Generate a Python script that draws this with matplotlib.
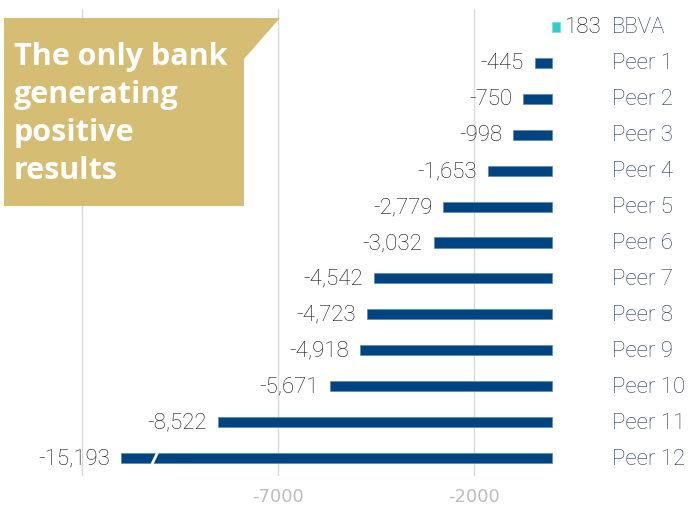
import matplotlib
matplotlib.use("Agg")
import matplotlib.pyplot as plt
from matplotlib.patches import Polygon

# ---------------- data ----------------
banks = ["BBVA", "Peer 1", "Peer 2", "Peer 3", "Peer 4", "Peer 5", "Peer 6",
         "Peer 7", "Peer 8", "Peer 9", "Peer 10", "Peer 11", "Peer 12"]
values = [183, -445, -750, -998, -1653, -2779, -3032,
          -4542, -4723, -4918, -5671, -8522, -15193]
value_labels = ["183", "-445", "-750", "-998", "-1,653", "-2,779", "-3,032",
                "-4,542", "-4,723", "-4,918", "-5,671", "-8,522", "-15,193"]
tick_values = [-12000, -7000, -2000]
tick_labels = ["", "-7000", "-2000"]
axis_cap = -11000          # bars beyond this are drawn broken
break_at = -10140
callout_lines = ["The only bank", "generating", "positive", "results"]

# ---------------- layout / style ----------------
W, H, DPI = 688, 510, 100
NAVY = "#004481"
CYAN = "#2dcccd"
GOLD = "#d6bd74"
NAME_COLOR = "#23355a"
VAL_COLOR = "#111111"
GRID = "#d9d9d9"

label_family = ["Roboto", "DejaVu Sans"]
label_size = 16

fig = plt.figure(figsize=(W / DPI, H / DPI), dpi=DPI)
ax = fig.add_axes([0, 33 / H, 1, (500 - 33) / H])

px_per_unit = 196 / 5000.0
zero_px = 552.4
ax.set_xlim((0 - zero_px) / px_per_unit, (W - zero_px) / px_per_unit)
ax.set_ylim(len(banks) - 0.5, -0.5)

ypos = list(range(len(banks)))
disp = [max(v, axis_cap) for v in values]
colors = [CYAN if v > 0 else NAVY for v in values]
bar_h = 0.28
ax.barh(ypos, disp, height=bar_h, color=colors, edgecolor=[
        "#7fd9da" if v > 0 else "#5f86b3" for v in values], linewidth=0.5, zorder=3)

# break mark on truncated bars
for y, v in zip(ypos, values):
    if v < axis_cap:
        dx = 75
        ax.plot([break_at - dx, break_at + dx], [y + bar_h / 2 + 0.03, y - bar_h / 2 - 0.03],
                color="white", lw=2.0, zorder=4, solid_capstyle="butt")

font_lab = dict(family=label_family, fontweight="light")

# value labels
for y, v, d, lab in zip(ypos, values, disp, value_labels):
    if v >= 0:
        ax.annotate(lab, xy=(d, y), xytext=(5, 0), textcoords="offset pixels",
                    ha="left", va="center", fontsize=label_size, color=VAL_COLOR, **font_lab)
    else:
        ax.annotate(lab, xy=(d, y), xytext=(-11, 0), textcoords="offset pixels",
                    ha="right", va="center", fontsize=label_size, color=VAL_COLOR, **font_lab)

# bank names
for y, name in zip(ypos, banks):
    ax.annotate(name, xy=(0, y), xytext=(612 - zero_px, 0), textcoords="offset pixels",
                ha="left", va="center", fontsize=label_size, color=NAME_COLOR, **font_lab)

# axes styling
ax.set_yticks([])
ax.set_xticks(tick_values)
ax.set_xticklabels(tick_labels)
ax.tick_params(axis="x", length=0, pad=8, labelsize=13, labelcolor="#bdbdbd")
ax.grid(axis="x", color=GRID, lw=1, zorder=0)
ax.set_axisbelow(True)
for s in ax.spines.values():
    s.set_visible(False)
ax.patch.set_alpha(0)

# callout flag (figure pixel coordinates, y from top)
def fp(x, y):
    return (x / W, 1 - y / H)

poly = Polygon([fp(4, 19), fp(280, 19), fp(244, 60), fp(244, 207), fp(4, 207)],
               closed=True, transform=fig.transFigure, facecolor=GOLD,
               edgecolor="none", zorder=10)
fig.patches.append(poly)

baselines = [65, 103, 141, 179]
for line, b in zip(callout_lines, baselines):
    fig.text(14 / W, 1 - b / H, line, ha="left", va="baseline", fontsize=22,
             fontweight="bold", color="white", family=["Open Sans", "DejaVu Sans"],
             zorder=11)

fig.savefig("out.png", dpi=DPI)
